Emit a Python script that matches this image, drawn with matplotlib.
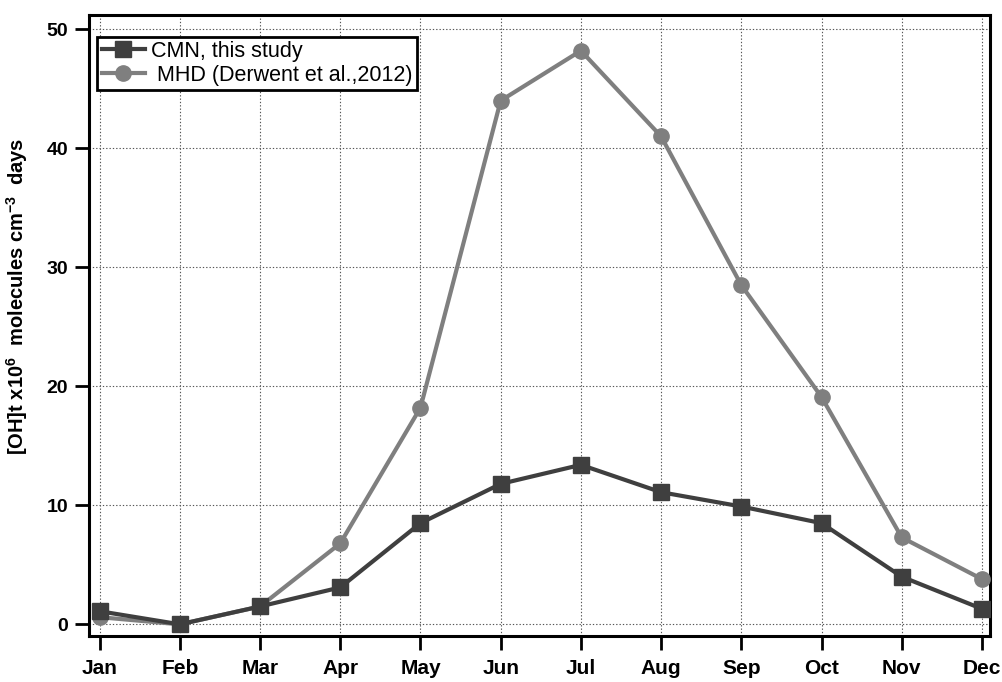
import matplotlib.pyplot as plt

# -------------------------
# DATA
# -------------------------
months = ['Jan', 'Feb', 'Mar', 'Apr', 'May', 'Jun',
          'Jul', 'Aug', 'Sep', 'Oct', 'Nov', 'Dec']
cmn_values = [1.1, 0.0, 1.5, 3.1, 8.5, 11.8, 13.4, 11.1, 9.9, 8.5, 4.0, 1.3]
mhd_values = [0.6, 0.0, 1.5, 6.8, 18.2, 44.0, 48.2, 41.0, 28.5, 19.1, 7.3, 3.8]
y_ticks = [0, 10, 20, 30, 40, 50]

# -------------------------
# STYLE
# -------------------------
plt.rcParams['font.family'] = ['Liberation Sans', 'DejaVu Sans']
plt.rcParams['mathtext.fontset'] = 'custom'
plt.rcParams['mathtext.rm'] = 'Liberation Sans:bold'
plt.rcParams['mathtext.it'] = 'Liberation Sans:bold'
plt.rcParams['mathtext.bf'] = 'Liberation Sans:bold'

fig = plt.figure(figsize=(10.02, 6.82), dpi=100)
ax = fig.add_axes([0.089, 0.068, 0.899, 0.910])

x = list(range(len(months)))

ax.plot(x, cmn_values, color='#3f3f3f', lw=3, marker='s', ms=11,
        label='CMN, this study', zorder=4)
ax.plot(x, mhd_values, color='#7f7f7f', lw=3, marker='o', ms=11,
        label=' MHD (Derwent et al.,2012)', zorder=3)

ax.set_xlim(-0.13, 11.1)
ax.set_ylim(-0.95, 51.2)
ax.set_xticks(x)
ax.set_xticklabels(months)
ax.set_yticks(y_ticks)

for lbl in ax.get_xticklabels():
    lbl.set_fontweight('bold')
    lbl.set_fontsize(15)
for lbl in ax.get_yticklabels():
    lbl.set_fontweight('bold')
    lbl.set_fontsize(14)

ax.tick_params(direction='out', length=10, width=2, pad=5)
ax.tick_params(axis='x', pad=7)
ax.grid(True, linestyle=(0, (1.2, 1.8)), color='#555555', lw=0.8)
ax.set_axisbelow(True)

for s in ax.spines.values():
    s.set_linewidth(2.2)

ax.set_ylabel(r'[OH]t x10$^{6}$  molecules cm$^{-3}$  days',
              fontsize=14.5, fontweight='bold')
ax.yaxis.set_label_coords(-0.066, 0.546)

leg = ax.legend(loc='upper left', fontsize=15.5, frameon=True, fancybox=False,
                edgecolor='black', borderpad=0.2, handlelength=2.0,
                handletextpad=0.3, labelspacing=0.12, borderaxespad=0,
                bbox_to_anchor=(0.009, 0.965))
leg.get_frame().set_linewidth(2)
leg.get_frame().set_alpha(1)

plt.savefig('out.png', dpi=100)
